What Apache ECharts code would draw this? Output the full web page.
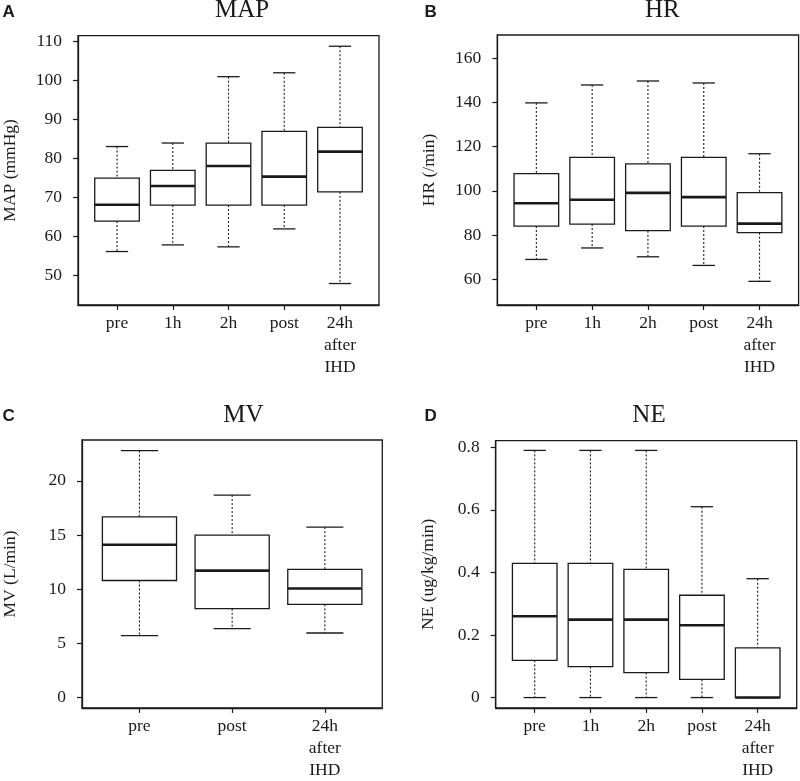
<!DOCTYPE html>
<html><head><meta charset="utf-8">
<script src="https://cdn.jsdelivr.net/npm/echarts@6/dist/echarts.min.js"></script>
<style>html,body{margin:0;padding:0;background:#fff}#c{width:800px;height:781px}</style>
</head><body><div id="c"></div>
<script>
// ---- categories ----
const catsFive = ['pre', '1h', '2h', 'post', '24h\nafter\nIHD'];
const catsThree = ['pre', 'post', '24h\nafter\nIHD'];

// ---- A: MAP (mmHg) ----
const mapMin = [56.2, 57.9, 57.4, 62.0, 48.0];
const mapQ1  = [64.0, 68.1, 68.1, 68.1, 71.5];
const mapMed = [68.2, 73.0, 78.1, 75.4, 81.8];
const mapQ3  = [75.0, 77.0, 84.0, 87.0, 88.0];
const mapMax = [83.1, 84.0, 101.0, 102.0, 108.8];
const mapTicks = [50, 60, 70, 80, 90, 100, 110];

// ---- B: HR (/min) ----
const hrMin = [69.0, 74.2, 70.2, 66.3, 59.1];
const hrQ1  = [84.1, 85.0, 82.0, 84.1, 81.1];
const hrMed = [94.4, 96.0, 99.1, 97.2, 85.2];
const hrQ3  = [107.8, 115.2, 112.2, 115.2, 99.2];
const hrMax = [139.8, 147.9, 149.7, 148.8, 116.8];
const hrTicks = [60, 80, 100, 120, 140, 160];

// ---- C: MV (L/min) ----
const mvMin = [5.72, 6.36, 5.96];
const mvQ1  = [10.8, 8.2, 8.6];
const mvMed = [14.1, 11.71, 10.06];
const mvQ3  = [16.67, 14.98, 11.83];
const mvMax = [22.78, 18.68, 15.72];
const mvTicks = [0, 5, 10, 15, 20];

// ---- D: NE (ug/kg/min) ----
const neMin = [0, 0, 0, 0, 0];
const neQ1  = [0.119, 0.099, 0.080, 0.058, 0];
const neMed = [0.260, 0.249, 0.249, 0.231, 0];
const neQ3  = [0.429, 0.429, 0.410, 0.327, 0.159];
const neMax = [0.790, 0.790, 0.790, 0.610, 0.380];
const neTicks = [0, 0.2, 0.4, 0.6, 0.8];

const ink = '#1a1a1a';
const serif = 'Liberation Serif';
const fs = 17.5;

function rows(mn, q1, md, q3, mx) {
  return mn.map((v, i) => [i + 1, v, q1[i], md[i], q3[i], mx[i]]);
}

function boxItem(params, api) {
  const x = api.value(0), lo = api.value(1), q1 = api.value(2), md = api.value(3), q3 = api.value(4), hi = api.value(5);
  const a = api.coord([x - 0.4, q3]), b = api.coord([x + 0.4, q1]);
  const cx = api.coord([x, md])[0];
  const sL = api.coord([x - 0.2, hi])[0], sR = api.coord([x + 0.2, hi])[0];
  const yHi = api.coord([x, hi])[1], yLo = api.coord([x, lo])[1], yMd = api.coord([x, md])[1];
  const dash = { stroke: ink, lineWidth: 1.1, lineDash: [2, 2] };
  const solid = { stroke: ink, lineWidth: 1.3 };
  return { type: 'group', children: [
    { type: 'line', shape: { x1: cx, y1: yHi, x2: cx, y2: a[1] }, style: dash },
    { type: 'line', shape: { x1: cx, y1: b[1], x2: cx, y2: yLo }, style: dash },
    { type: 'line', shape: { x1: sL, y1: yHi, x2: sR, y2: yHi }, style: solid },
    { type: 'line', shape: { x1: sL, y1: yLo, x2: sR, y2: yLo }, style: solid },
    { type: 'rect', shape: { x: a[0], y: a[1], width: b[0] - a[0], height: b[1] - a[1] }, style: { fill: '#fff', stroke: ink, lineWidth: 1.3 } },
    { type: 'line', shape: { x1: a[0], y1: yMd, x2: b[0], y2: yMd }, style: { stroke: ink, lineWidth: 2.6 } }
  ]};
}

function xAx(gi, cats, mn, mx) {
  const vals = cats.map((c, i) => i + 1);
  return {
    type: 'value', gridIndex: gi, min: mn, max: mx,
    axisLine: { show: true, onZero: false, lineStyle: { color: ink, width: 1.3 } },
    axisTick: { show: true, customValues: vals, length: 5, lineStyle: { color: ink, width: 1.2 } },
    axisLabel: { customValues: vals, formatter: v => cats[Math.round(v) - 1], fontFamily: serif, fontSize: fs, lineHeight: 21.7, color: ink, margin: 8 },
    splitLine: { show: false }
  };
}
function yAx(gi, ticks, mn, mx, name, gap) {
  return {
    type: 'value', gridIndex: gi, min: mn, max: mx,
    name: name, nameLocation: 'middle', nameGap: gap,
    nameTextStyle: { fontFamily: serif, fontSize: fs, color: ink },
    axisLine: { show: true, onZero: false, lineStyle: { color: ink, width: 1.3 } },
    axisTick: { show: true, customValues: ticks, length: 5, lineStyle: { color: ink, width: 1.2 } },
    axisLabel: { customValues: ticks, fontFamily: serif, fontSize: fs, color: ink, margin: 16 },
    splitLine: { show: false }
  };
}
function gridBox(l, t, w, h) {
  return { left: l, top: t, width: w, height: h, show: true, borderColor: ink, borderWidth: 1.3, backgroundColor: 'transparent' };
}
function txt(x, y, s, font, weight) {
  return { type: 'text', x: x, y: y, style: { text: s, font: weight + ' ' + font, fill: ink, textAlign: weight === 'bold' ? 'left' : 'center', textVerticalAlign: 'middle' } };
}

const chart = echarts.init(document.getElementById('c'), null, { renderer: 'canvas' });
chart.setOption({
  animation: false,
  backgroundColor: '#fff',
  grid: [
    gridBox(77.7, 35.7, 301.3, 269.3),
    gridBox(497.3, 35, 301.3, 270),
    gridBox(80.7, 440, 301.6, 269.3),
    gridBox(495.7, 440.7, 301, 268.6)
  ],
  xAxis: [
    xAx(0, catsFive, 0.3, 5.7),
    xAx(1, catsFive, 0.3, 5.7),
    xAx(2, catsThree, 0.38, 3.62),
    xAx(3, catsFive, 0.3, 5.7)
  ],
  yAxis: [
    yAx(0, mapTicks, 42.5, 111.5, 'MAP (mmHg)', 59),
    yAx(1, hrTicks, 48.4, 170.5, 'HR (/min)', 59),
    yAx(2, mvTicks, -0.95, 23.76, 'MV (L/min)', 63),
    yAx(3, neTicks, -0.033, 0.821, 'NE (ug/kg/min)', 58)
  ],
  series: [
    { type: 'custom', xAxisIndex: 0, yAxisIndex: 0, renderItem: boxItem, encode: { x: 0, y: [1, 2, 3, 4, 5] }, data: rows(mapMin, mapQ1, mapMed, mapQ3, mapMax) },
    { type: 'custom', xAxisIndex: 1, yAxisIndex: 1, renderItem: boxItem, encode: { x: 0, y: [1, 2, 3, 4, 5] }, data: rows(hrMin, hrQ1, hrMed, hrQ3, hrMax) },
    { type: 'custom', xAxisIndex: 2, yAxisIndex: 2, renderItem: boxItem, encode: { x: 0, y: [1, 2, 3, 4, 5] }, data: rows(mvMin, mvQ1, mvMed, mvQ3, mvMax) },
    { type: 'custom', xAxisIndex: 3, yAxisIndex: 3, renderItem: boxItem, encode: { x: 0, y: [1, 2, 3, 4, 5] }, data: rows(neMin, neQ1, neMed, neQ3, neMax) }
  ],
  graphic: [
    txt(242, 10.5, 'MAP', '25px "Liberation Serif"', 'normal'),
    txt(662.3, 10.5, 'HR', '25px "Liberation Serif"', 'normal'),
    txt(243.3, 415, 'MV', '25px "Liberation Serif"', 'normal'),
    txt(649, 415.8, 'NE', '25px "Liberation Serif"', 'normal'),
    txt(2.5, 12.6, 'A', '17px "Liberation Sans"', 'bold'),
    txt(424.5, 12.6, 'B', '17px "Liberation Sans"', 'bold'),
    txt(2.5, 416.8, 'C', '17px "Liberation Sans"', 'bold'),
    txt(424.5, 416.3, 'D', '17px "Liberation Sans"', 'bold')
  ]
});
</script>
</body></html>
